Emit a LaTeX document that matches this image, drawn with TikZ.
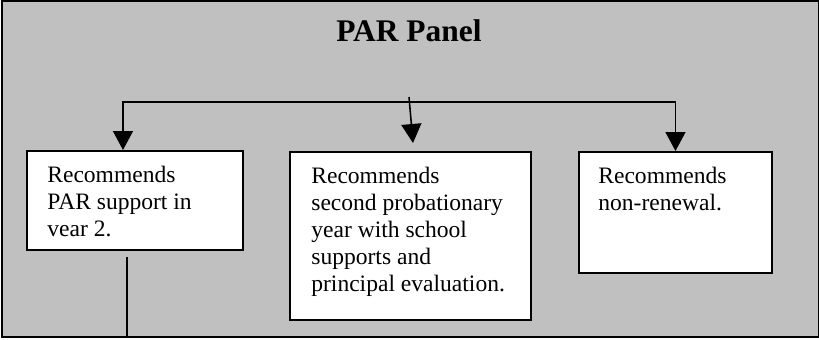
\documentclass[tikz,border=0pt]{standalone}
\usepackage{fontspec}
\setmainfont{Liberation Serif}
\usetikzlibrary{arrows.meta}
\definecolor{panelgray}{RGB}{192,192,192}

\tikzset{
    recbox/.style={draw, fill=white, line width=1.1pt, anchor=north west, inner sep=0pt},
    rectext/.style={anchor=north west, inner sep=0pt, align=left, font=\fontsize{13.4}{15.4}\selectfont},
    decision/.style={line width=0.9pt, -{Triangle[width=0.4cm, length=0.38cm]}}
}

\begin{document}
\begin{tikzpicture}
    \useasboundingbox (0, 0) rectangle (16.38, 6.78);
    \begin{scope}
        % PAR panel background
        \node[draw, fill=panelgray, line width=1.1pt, minimum width=16.34cm, minimum height=6.72cm,
            anchor=south west, inner sep=0pt] (panel) at (0.02, 0.02) {};
        \node[anchor=base, font=\fontsize{17.9}{20}\selectfont\bfseries] (title) at (8.18, 5.94) {PAR Panel};
        % recommendation boxes
        \node[recbox, minimum width=4.32cm, minimum height=1.98cm] (parbox) at (0.52, 3.78) {};
        \node[rectext] (partext) at ([shift={(0.42, -0.32)}]parbox.north west)
            {Recommends\\PAR support in\\vear 2.};
        \node[recbox, minimum width=4.82cm, minimum height=3.36cm] (probbox) at (5.78, 3.76) {};
        \node[rectext] (probtext) at ([shift={(0.44, -0.32)}]probbox.north west)
            {Recommends\\second probationary\\year with school\\supports and\\principal evaluation.};
        \node[recbox, minimum width=3.86cm, minimum height=2.42cm] (nonbox) at (11.56, 3.76) {};
        \node[rectext] (nontext) at ([shift={(0.40, -0.32)}]nonbox.north west)
            {Recommends\\non-renewal.};
        % branch lines
        \coordinate (split) at (8.20, 4.74);
        \coordinate (top) at (8.18, 4.84);
        \coordinate (probtip) at (8.26, 3.92);
        \draw[decision] (split) -| ([xshift=-0.24cm]parbox.north);
        \draw[decision] (split) -| (nonbox.north);
        \draw[decision] (top) -- (probtip);
        % lines leaving the panel
        \coordinate (intop) at (7.24, 6.78);
        \draw[line width=0.8pt] (intop) -- (intop |- panel.north);
        \coordinate (down) at (2.54, 1.64);
        \draw[line width=1.7pt] (down) -- (down |- panel.south);
    \end{scope}
\end{tikzpicture}
\end{document}
